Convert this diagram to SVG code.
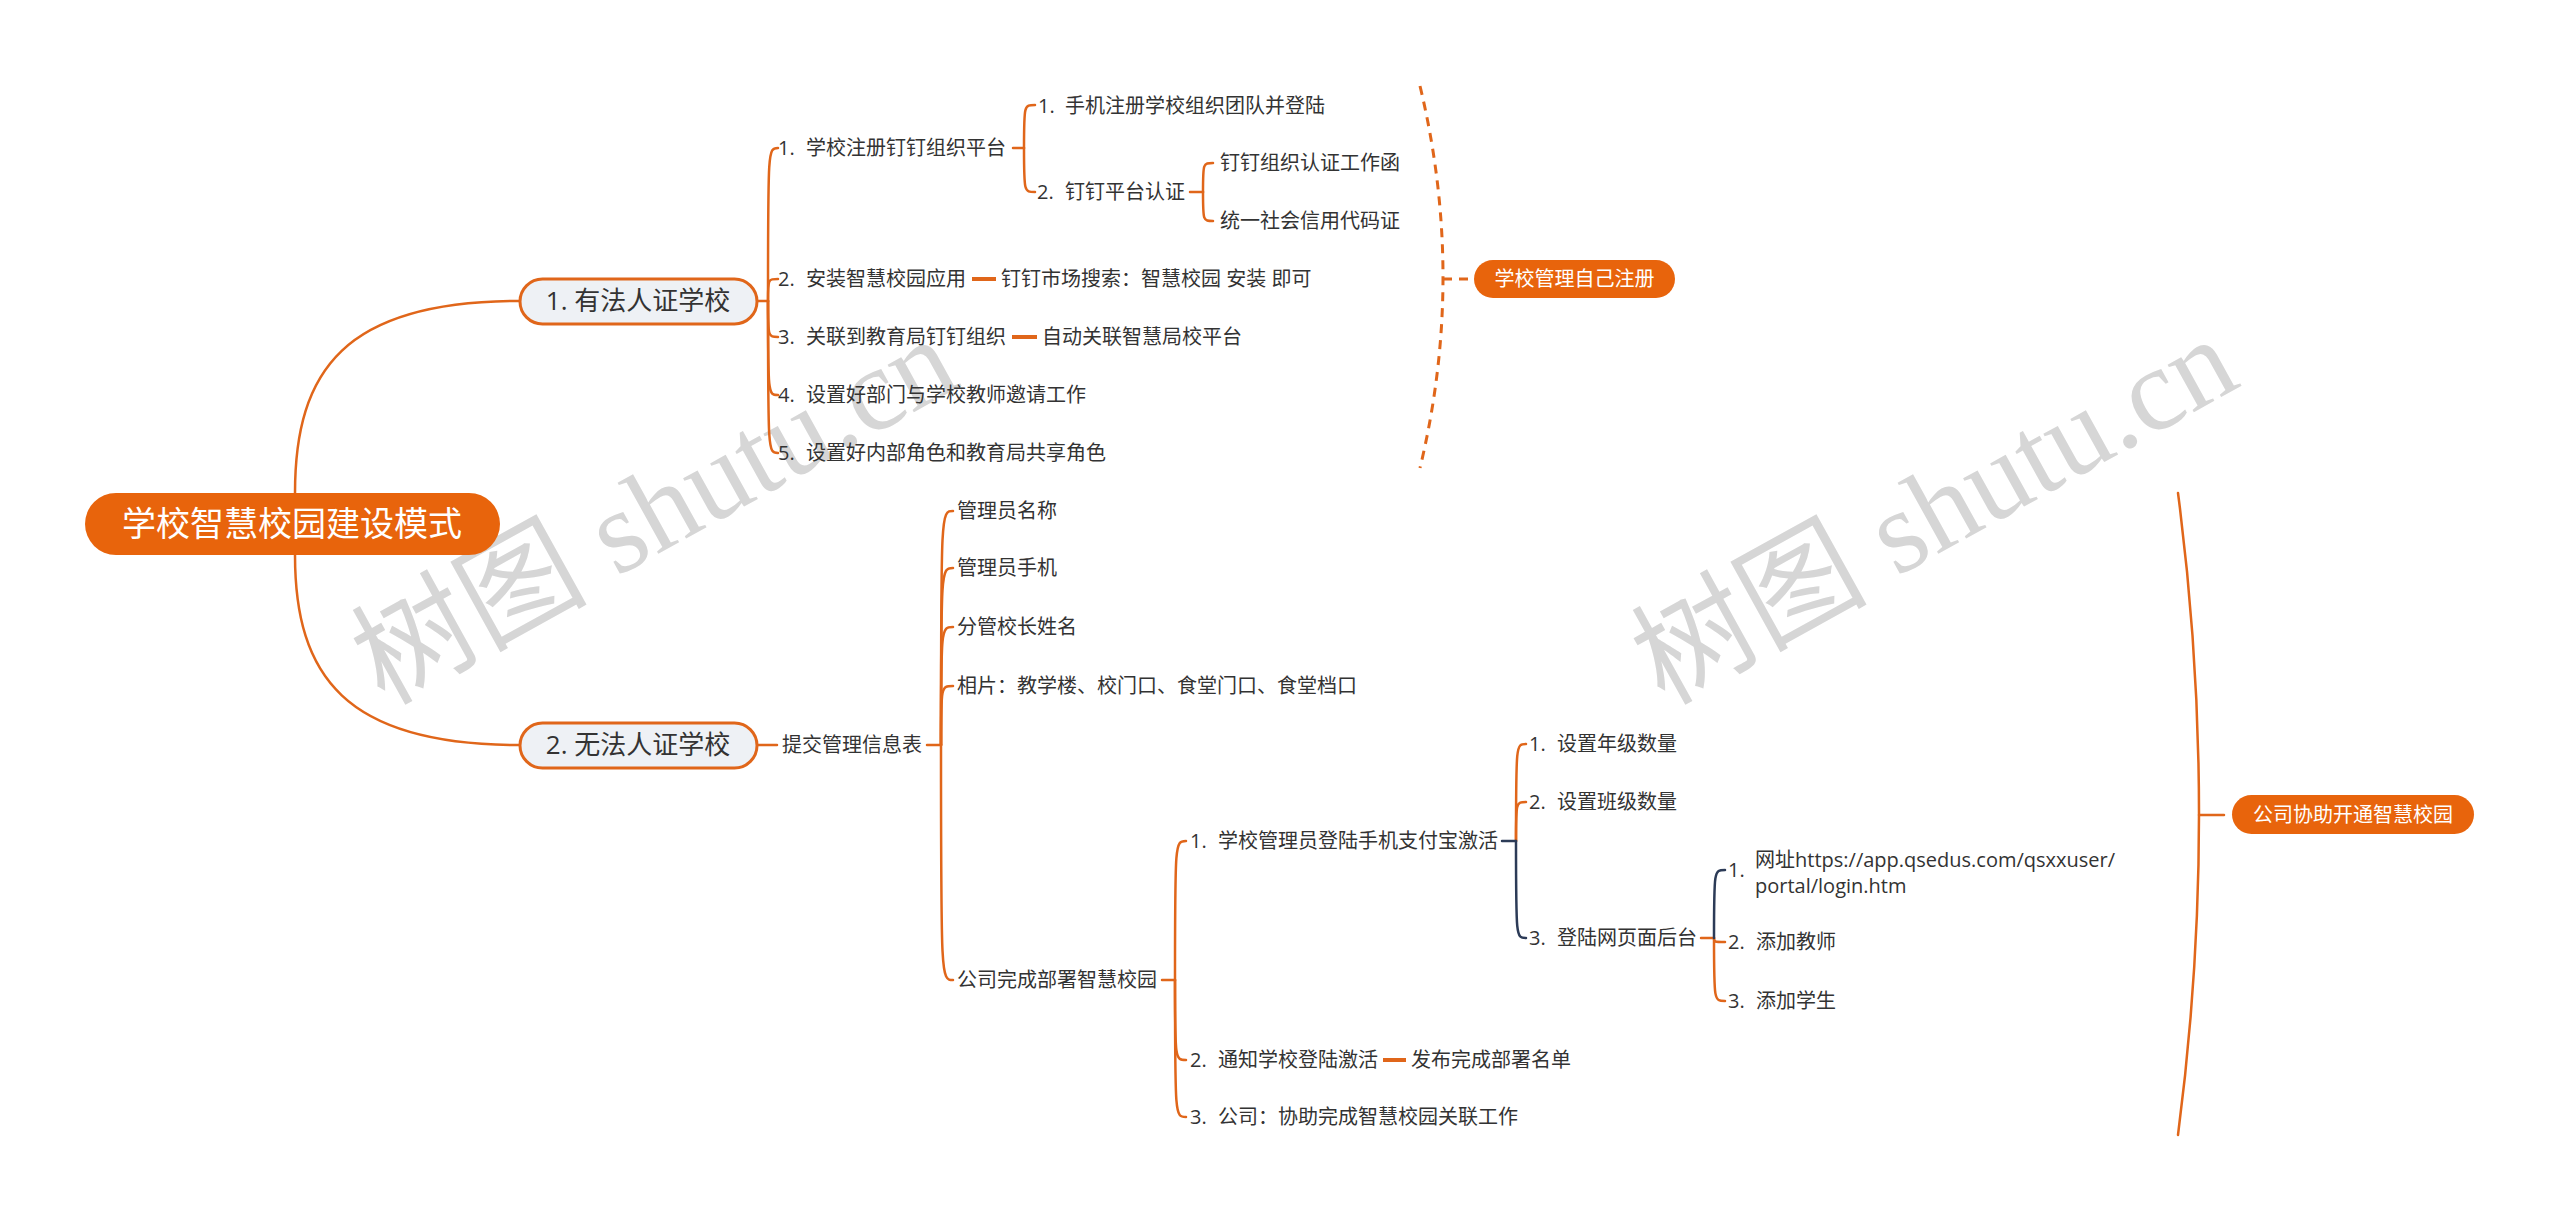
<svg xmlns="http://www.w3.org/2000/svg" width="2560" height="1223" viewBox="0 0 2560 1223">
<style>
text{font-family:"Open Sans","Noto Sans CJK SC",sans-serif;}
.t{font-size:20px;fill:#333333;}
.w{fill:#ffffff;text-anchor:middle;}
.c{fill:none;stroke:#E0661A;stroke-width:2.5;stroke-linecap:round;}
.n{fill:none;stroke:#2C3B57;stroke-width:2.5;stroke-linecap:round;}
.thick{fill:none;stroke:#E0661A;stroke-width:4;}
.dash{fill:none;stroke:#E0661A;stroke-width:3;stroke-dasharray:9 7;}
.br{fill:#EEF1F5;stroke:#E0661A;stroke-width:3;}
.or{fill:#E8640C;}
text.wm{font-family:"Liberation Serif","Noto Sans CJK SC",serif;font-size:118px;fill:#D6D6D6;}
</style>
<rect width="2560" height="1223" fill="#ffffff"/>
<g id="watermarks">
<text class="wm" transform="translate(384,706) rotate(-29)">树图 shutu.cn</text>
<text class="wm" transform="translate(1664,706) rotate(-29)">树图 shutu.cn</text>
</g>
<g id="connectors">
<path class="c" stroke-width="3" d="M295,493 C295,370 345,301 519,301"/>
<path class="c" stroke-width="3" d="M295,555 C295,676 345,745 519,745"/>
<path class="c" d="M757,301 H768"/>
<path class="c" d="M768,301 C768,148 768,148 778,148"/>
<path class="c" d="M768,301 C768,279 768,279 778,279"/>
<path class="c" d="M768,301 C768,337 768,337 778,337"/>
<path class="c" d="M768,301 C768,395 768,395 778,395"/>
<path class="c" d="M768,301 C768,453 768,453 778,453"/>
<path class="c" d="M1013,148 H1024"/>
<path class="c" d="M1024,148 C1024,105 1024,105 1035,105"/>
<path class="c" d="M1024,148 C1024,192 1024,192 1035,192"/>
<path class="c" d="M1190,192 H1203"/>
<path class="c" d="M1203,192 C1203,163 1203,163 1213,163"/>
<path class="c" d="M1203,192 C1203,221 1203,221 1213,221"/>
<path class="thick" d="M972,279 H996"/>
<path class="thick" d="M1012,337 H1037"/>
<path class="dash" d="M1420,86 Q1466,277 1420,468"/>
<path class="dash" d="M1443,279 H1468"/>
<path class="c" d="M757,745 H777"/>
<path class="c" d="M927,745 H941"/>
<path class="c" d="M941,745 C941,511 941,511 953,511"/>
<path class="c" d="M941,745 C941,568 941,568 953,568"/>
<path class="c" d="M941,745 C941,627 941,627 953,627"/>
<path class="c" d="M941,745 C941,686 941,686 953,686"/>
<path class="c" d="M941,745 C941,980 941,980 953,980"/>
<path class="c" d="M1162,980 H1175"/>
<path class="c" d="M1175,980 C1175,841 1175,841 1186,841"/>
<path class="c" d="M1175,980 C1175,1060 1175,1060 1186,1060"/>
<path class="c" d="M1175,980 C1175,1117 1175,1117 1186,1117"/>
<path class="thick" d="M1383,1060 H1406"/>
<path class="c" d="M1516,841 C1516,744 1516,744 1526,744"/>
<path class="c" d="M1516,841 C1516,802 1516,802 1526,802"/>
<path class="n" d="M1516,841 C1516,938 1516,938 1526,938"/>
<path class="n" d="M1502,841 H1516"/>
<path class="c" d="M1701,938 H1714"/>
<path class="c" d="M1714,938 C1714,942 1714,942 1725,942"/>
<path class="c" d="M1714,938 C1714,1001 1714,1001 1725,1001"/>
<path class="n" d="M1714,938 C1714,870 1714,870 1725,870"/>
<path class="c" stroke-width="3" d="M2178,493 Q2220,814 2178,1135"/>
<path class="c" stroke-width="3" d="M2199,815 H2224"/>
</g>
<g id="root">
<rect class="or" x="85" y="493" width="415" height="62" rx="31"/>
<text class="w" x="292" y="536" font-size="34">学校智慧校园建设模式</text>
</g>
<g id="branch1">
<rect class="br" x="520" y="279" width="237" height="45" rx="22.5"/>
<text x="638" y="310" font-size="26" fill="#333333" text-anchor="middle">1. 有法人证学校</text>
</g>
<g id="b1-1"><text class="t" y="155"><tspan x="778">1.</tspan><tspan x="806">学校注册钉钉组织平台</tspan></text></g>
<g id="b1-1-1"><text class="t" y="113" font-size="22"><tspan x="1038">1.</tspan><tspan x="1065">手机注册学校组织团队并登陆</tspan></text></g>
<g id="b1-1-2"><text class="t" y="199"><tspan x="1037">2.</tspan><tspan x="1065">钉钉平台认证</tspan></text></g>
<g id="b1-1-2-1"><text class="t" x="1220" y="170">钉钉组织认证工作函</text></g>
<g id="b1-1-2-2"><text class="t" x="1220" y="228">统一社会信用代码证</text></g>
<g id="b1-2"><text class="t" y="286"><tspan x="778">2.</tspan><tspan x="806">安装智慧校园应用</tspan></text></g>
<g id="b1-2-1"><text class="t" x="1001" y="286">钉钉市场搜索：智慧校园 安装 即可</text></g>
<g id="b1-3"><text class="t" y="344"><tspan x="778">3.</tspan><tspan x="806">关联到教育局钉钉组织</tspan></text></g>
<g id="b1-3-1"><text class="t" x="1042" y="344">自动关联智慧局校平台</text></g>
<g id="b1-4"><text class="t" y="402"><tspan x="778">4.</tspan><tspan x="806">设置好部门与学校教师邀请工作</tspan></text></g>
<g id="b1-5"><text class="t" y="460"><tspan x="778">5.</tspan><tspan x="806">设置好内部角色和教育局共享角色</tspan></text></g>
<g id="summary1">
<rect class="or" x="1474" y="260" width="201" height="38" rx="19"/>
<text class="w" x="1574.5" y="286" font-size="20">学校管理自己注册</text>
</g>
<g id="branch2">
<rect class="br" x="520" y="723" width="237" height="45" rx="22.5"/>
<text x="638" y="754" font-size="26" fill="#333333" text-anchor="middle">2. 无法人证学校</text>
</g>
<g id="b2-1"><text class="t" x="782" y="752">提交管理信息表</text></g>
<g id="b2-1-1"><text class="t" x="957" y="518">管理员名称</text></g>
<g id="b2-1-2"><text class="t" x="957" y="575">管理员手机</text></g>
<g id="b2-1-3"><text class="t" x="957" y="634">分管校长姓名</text></g>
<g id="b2-1-4"><text class="t" x="957" y="693">相片：教学楼、校门口、食堂门口、食堂档口</text></g>
<g id="b2-1-5"><text class="t" x="957" y="987">公司完成部署智慧校园</text></g>
<g id="b2-1-5-1"><text class="t" y="848"><tspan x="1190">1.</tspan><tspan x="1218">学校管理员登陆手机支付宝激活</tspan></text></g>
<g id="b2-1-5-1-1"><text class="t" y="751"><tspan x="1529">1.</tspan><tspan x="1557">设置年级数量</tspan></text></g>
<g id="b2-1-5-1-2"><text class="t" y="809"><tspan x="1529">2.</tspan><tspan x="1557">设置班级数量</tspan></text></g>
<g id="b2-1-5-1-3"><text class="t" y="945"><tspan x="1529">3.</tspan><tspan x="1557">登陆网页面后台</tspan></text></g>
<g id="b2-1-5-1-3-1"><text class="t" y="877"><tspan x="1728">1.</tspan></text><text class="t"><tspan x="1755" y="867">网址https://app.qsedus.com/qsxxuser/</tspan><tspan x="1755" y="893">portal/login.htm</tspan></text></g>
<g id="b2-1-5-1-3-2"><text class="t" y="949"><tspan x="1728">2.</tspan><tspan x="1756">添加教师</tspan></text></g>
<g id="b2-1-5-1-3-3"><text class="t" y="1008"><tspan x="1728">3.</tspan><tspan x="1756">添加学生</tspan></text></g>
<g id="b2-1-5-2"><text class="t" y="1067"><tspan x="1190">2.</tspan><tspan x="1218">通知学校登陆激活</tspan></text></g>
<g id="b2-1-5-2-1"><text class="t" x="1411" y="1067">发布完成部署名单</text></g>
<g id="b2-1-5-3"><text class="t" y="1124"><tspan x="1190">3.</tspan><tspan x="1218">公司：协助完成智慧校园关联工作</tspan></text></g>
<g id="summary2">
<rect class="or" x="2232" y="795" width="242" height="39" rx="19.5"/>
<text class="w" x="2353" y="822" font-size="20">公司协助开通智慧校园</text>
</g>
</svg>
